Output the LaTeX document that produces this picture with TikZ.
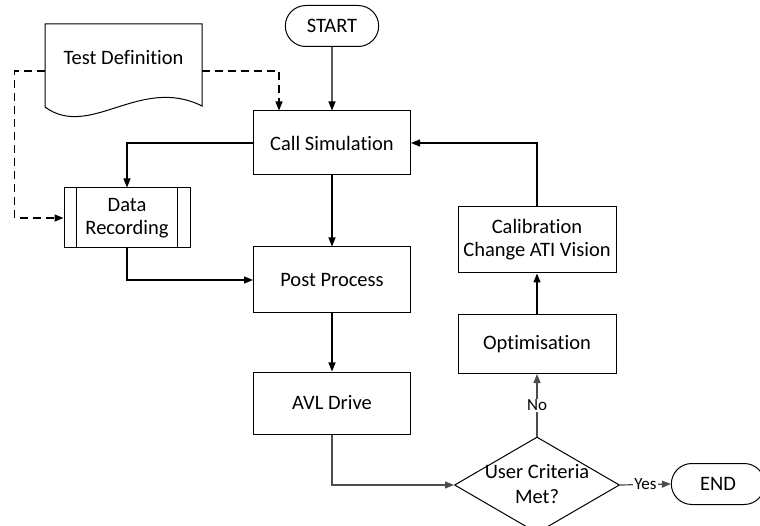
\documentclass[tikz,border=0pt]{standalone}
\usepackage{fontspec}
\setmainfont{Carlito}[Ligatures={NoCommon,NoContextual}]
\usetikzlibrary{arrows.meta,positioning,shapes.geometric,shapes.misc}

\begin{document}
\begin{tikzpicture}[
  x=1pt, y=-1pt,
  box/.style={draw, line width=1pt, minimum width=157pt, minimum height=64pt,
              font=\fontsize{20.5}{23}\selectfont, align=center},
  term/.style={draw, rounded rectangle, line width=1pt, minimum width=100pt,
               minimum height=41pt, font=\fontsize{20.5}{23}\selectfont},
  decision/.style={draw, diamond, line width=1pt, minimum width=165pt,
                   minimum height=96pt, inner sep=0pt},
  arr/.style={-{Triangle[length=9pt,width=7pt]}, line width=1.2pt},
  grayarr/.style={arr, draw=black!70},
  dasharr/.style={arr, dash pattern=on 8pt off 5pt},
  lbl/.style={font=\fontsize{17}{19}\selectfont, fill=white, inner sep=1pt, midway},
]
  \useasboundingbox (0,0) rectangle (760,526);

  % document symbol for the test definition
  \node[font=\fontsize{20.5}{23}\selectfont, minimum width=157pt, minimum height=68pt]
    (testdef) at (123.5,58) {Test Definition};
  \draw[line width=1pt] (45,107) -- (45,24) -- (202,24) -- (202,106)
    .. controls (140,75) and (90,140) .. cycle;

  \node[term] (start) at (332,26) {START};
  \node[box] (callsim) at (332,143) {Call Simulation};
  \node[box, minimum width=126pt, minimum height=60pt] (datarec) at (127,218) {Data\\Recording};
  \draw[line width=1pt] ([xshift=13pt]datarec.north west) -- ([xshift=13pt]datarec.south west);
  \draw[line width=1pt] ([xshift=-13pt]datarec.north east) -- ([xshift=-13pt]datarec.south east);
  \node[box, minimum height=66pt] (postproc) at (332,280) {Post Process};
  \node[box, minimum height=62pt] (avl) at (332,403) {AVL Drive};
  \node[decision] (crit) at (537,485) {};
  \node[font=\fontsize{20.5}{25}\selectfont, align=center] (crittext) at (537,484) {User Criteria\\Met?};
  \node[term] (finish) at (718,484) {END};
  \node[box, minimum width=158pt, minimum height=59pt] (optim) at (537,344) {Optimisation};
  \node[box, minimum width=158pt, minimum height=66pt] (calib) at (537,240) {Calibration\\Change ATI Vision};

  \draw[arr] (start) -- (callsim);
  \draw[dasharr] ([yshift=-13pt]testdef.east) -| ([xshift=-53pt]callsim.north);
  \draw[dasharr] ([yshift=-13pt]testdef.west) -| ++(-30,0) |- (datarec.west);
  \draw[arr] (callsim.west) -| (datarec.north);
  \draw[arr] (datarec.south) |- (postproc.west);
  \draw[arr] (callsim) -- (postproc);
  \draw[arr] (postproc) -- (avl);
  \draw[grayarr] (avl.south) |- (crit.west);
  \draw[grayarr] (crit.north) -- node[lbl] {No} (optim.south);
  \draw[grayarr] (crit.east) -- node[lbl] {Yes} (finish.west);
  \draw[arr] (optim) -- (calib);
  \draw[arr] (calib.north) |- (callsim.east);
\end{tikzpicture}
\end{document}
